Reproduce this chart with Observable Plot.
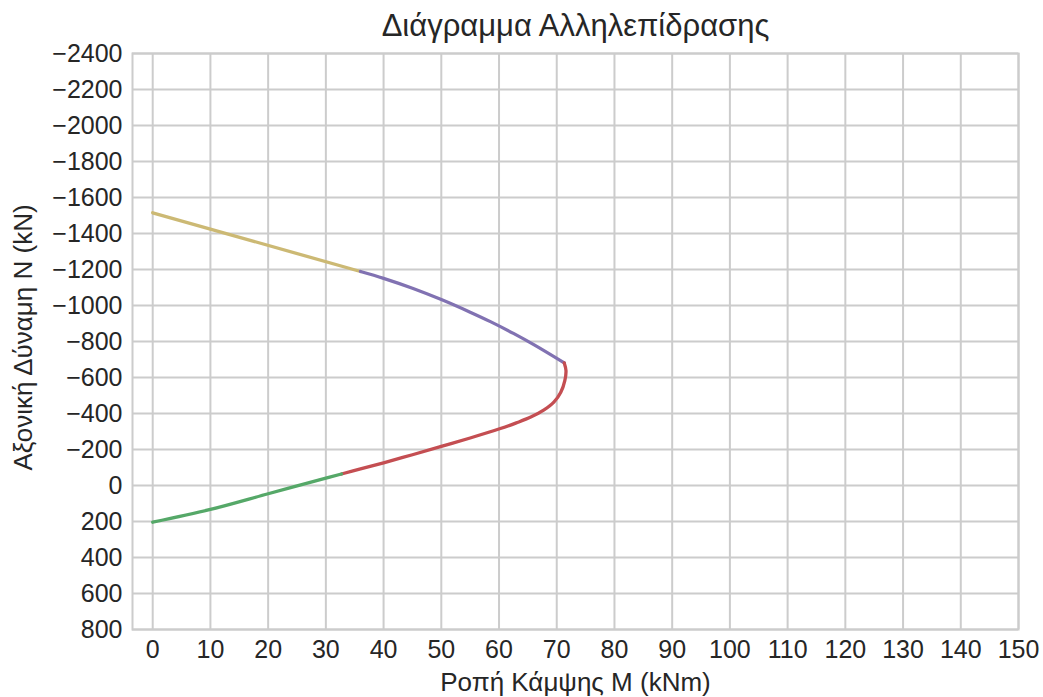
<!DOCTYPE html>
<html>
<head>
<meta charset="utf-8">
<script src="https://cdn.jsdelivr.net/npm/d3@7"></script>
<script src="https://cdn.jsdelivr.net/npm/@observablehq/plot@0.6"></script>
<style>
  html, body { margin: 0; padding: 0; background: #ffffff; }
  #chart { width: 1043px; height: 697px; }
</style>
</head>
<body>
<div id="chart"></div>
<script>
// ---- Data ----
const title = "Διάγραμμα Αλληλεπίδρασης";
const xLabel = "Ροπή Κάμψης Μ (kNm)";
const yLabel = "Αξονική Δύναμη Ν (kN)";

const xTicks = [0, 10, 20, 30, 40, 50, 60, 70, 80, 90, 100, 110, 120, 130, 140, 150];
const yTicks = [-2400, -2200, -2000, -1800, -1600, -1400, -1200, -1000, -800, -600, -400, -200, 0, 200, 400, 600, 800];

// Yellow segment
const yellowM = [0, 36.0];
const yellowN = [-1515, -1189];
// Purple segment
const purpleM = [36.0, 40.0, 45.0, 50.0, 55.0, 58.6, 62.5, 66.1, 71.3];
const purpleN = [-1189, -1151, -1096, -1033, -963, -909, -845, -781, -681];
// Red segment
const redM = [71.3, 71.6, 71.4, 70.7, 69.5, 67.8, 65.5, 63.0, 60.1, 55.0, 50.0, 45.0, 40.0, 36.0, 32.7];
const redN = [-681, -639, -583, -518, -463, -420, -380, -348, -315, -264, -217, -171, -126, -92, -64];
// Green segment
const greenM = [32.7, 30.0, 20.0, 10.0, 0];
const greenN = [-64, -41, 46, 133, 204];

const seriesColors = { yellow: "#ccb974", purple: "#8172b2", red: "#c44e52", green: "#55a868" };

const toRows = (name, M, N) => M.map((m, i) => ({ series: name, M: m, N: N[i] }));
const segments = [
  toRows("yellow", yellowM, yellowN),
  toRows("purple", purpleM, purpleN),
  toRows("red", redM, redN),
  toRows("green", greenM, greenN)
];

const fmt = d => (d < 0 ? "\u2212" + Math.abs(d) : String(d));
const textColor = "#262626";
const gridColor = "#cccccc";

const chart = Plot.plot({
  width: 1043,
  height: 697,
  marginLeft: 132,
  marginRight: 25,
  marginTop: 53,
  marginBottom: 68,
  style: { fontFamily: "'Liberation Sans', Arial, sans-serif", background: "#ffffff", color: textColor },
  x: { domain: [-3.5, 150], label: null },
  y: { domain: [-2400, 800], reverse: true, label: null },
  marks: [
    Plot.gridX(xTicks, { stroke: gridColor, strokeOpacity: 1, strokeWidth: 2 }),
    Plot.gridY(yTicks, { stroke: gridColor, strokeOpacity: 1, strokeWidth: 2 }),
    Plot.frame({ stroke: gridColor, strokeWidth: 2 }),
    ...segments.map(rows => Plot.line(rows, {
      x: "M", y: "N", stroke: seriesColors[rows[0].series], strokeWidth: 3.3, curve: "catmull-rom"
    })),
    Plot.axisX(xTicks, { tickSize: 0, tickPadding: 11, fontSize: 25, fill: textColor, tickFormat: fmt, label: null }),
    Plot.axisY(yTicks, { tickSize: 0, tickPadding: 10, fontSize: 25, fill: textColor, tickFormat: fmt, label: null }),
    Plot.text([title], { frameAnchor: "top", textAnchor: "middle", lineAnchor: "bottom", dy: -18, fontSize: 31, fill: textColor }),
    Plot.text([xLabel], { frameAnchor: "bottom", textAnchor: "middle", lineAnchor: "bottom", dy: 61, fontSize: 26, fill: textColor }),
    Plot.text([yLabel], { frameAnchor: "left", textAnchor: "middle", rotate: -90, dx: -109, dy: -4, fontSize: 26, fill: textColor })
  ]
});
document.getElementById("chart").appendChild(chart);
</script>
</body>
</html>
